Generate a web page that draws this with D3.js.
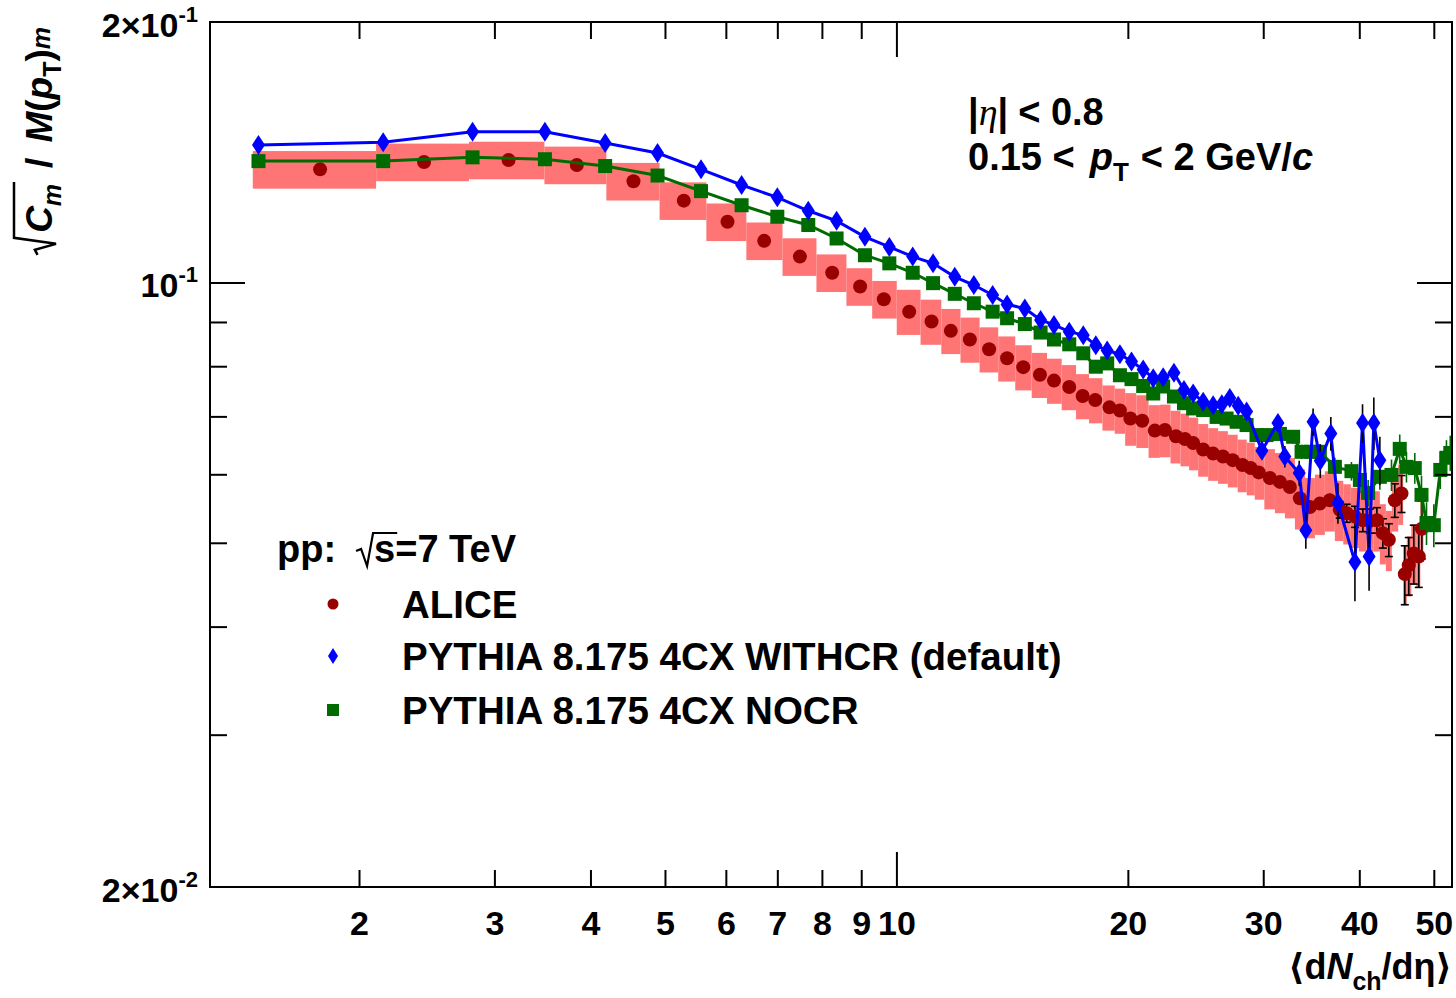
<!DOCTYPE html>
<html><head><meta charset="utf-8">
<script src="https://cdn.jsdelivr.net/npm/d3@7"></script>
<style>html,body{margin:0;padding:0;background:#fff;} svg{display:block}</style>
</head><body>
<svg id="chart" width="1456" height="998"></svg>
<script>
// ---------------- data ----------------
const aliceX = [1.78,2.43,3.13,3.84,4.55,5.29,6.03,6.73,7.49,8.25,8.97,9.63,10.39,11.11,11.77,12.46,13.2,13.93,14.62,15.37,
  16.03,16.78,17.47,18.14,18.93,19.53,20.15,20.88,21.68,22.35,23.10,23.73,24.32,25.06,25.82,26.59,27.38,28.2,28.9,29.6,
  30.6,31.54,32.49,33.48,34.5,35.54,36.62,37.73,38.52,39.48,40.43,41.28,42.16,42.92,43.7,44.49,45.39,45.84,46.39,47.09,47.8,48.24];
const aliceY = [0.1351,0.1378,0.1385,0.1367,0.1309,0.1243,0.1175,0.1117,0.1071,0.1026,0.0989,0.0956,0.0925,0.0901,0.0879,0.0859,0.0837,0.0817,0.0798,0.0782,
  0.0770,0.0757,0.0739,0.0731,0.0717,0.0711,0.0696,0.0692,0.0674,0.0675,0.0664,0.0659,0.0652,0.0641,0.0634,0.0629,0.0623,0.0615,0.0610,0.0603,
  0.0594,0.0588,0.0580,0.0563,0.0550,0.0555,0.0560,0.0546,0.0541,0.0536,0.0531,0.0530,0.0531,0.0513,0.0504,0.0560,0.0570,0.0460,0.0471,0.0486,0.0482,0.0519];
const aliceStat = [0.0003,0.0003,0.0003,0.0003,0.0003,0.0003,0.0003,0.0003,0.0003,0.0003,0.0003,0.0003,0.0003,0.0003,0.0003,0.0003,0.0003,0.0003,0.0003,0.0003,
  0.0003,0.0003,0.0003,0.0003,0.0003,0.0003,0.0003,0.0003,0.0003,0.0003,0.0003,0.0003,0.0004,0.0004,0.0004,0.0004,0.0004,0.0004,0.0004,0.0004,
  0.0005,0.0005,0.0006,0.0007,0.0008,0.0009,0.0010,0.0012,0.0013,0.0015,0.0016,0.0017,0.0018,0.0020,0.0022,0.0025,0.0028,0.0036,0.0036,0.0038,0.0038,0.0040];
const aliceSystRel = [0.05,0.05,0.05,0.05,0.05,0.05,0.05,0.05,0.05,0.05,0.05,0.05,0.06,0.06,0.06,0.06,0.06,0.06,0.06,0.06,
  0.06,0.06,0.06,0.06,0.06,0.06,0.07,0.07,0.07,0.07,0.07,0.07,0.07,0.07,0.07,0.07,0.07,0.07,0.07,0.07,
  0.08,0.08,0.08,0.08,0.08,0.08,0.08,0.08,0.08,0.08,0.08,0.08,0.08,0.08,0.08,0.08,0.08,0.08,0.08,0.08,0.08,0.08];

const withcrX = [1.48,2.15,2.81,3.49,4.18,4.89,5.57,6.29,7.0,7.68,8.36,9.1,9.79,10.5,11.16,11.91,12.61,13.34,13.93,14.69,
  15.4,16.03,16.78,17.5,18.17,18.8,19.53,20.22,20.94,21.58,22.23,22.96,23.66,24.32,25.06,25.82,26.5,27.14,27.83,28.54,
  29.88,31.35,32.0,33.41,34.08,34.83,35.59,36.73,37.52,39.48,40.39,41.19,41.78,42.54];
const withcrY = [0.1442,0.1452,0.1493,0.1493,0.1449,0.1411,0.1351,0.1296,0.1254,0.1210,0.1178,0.1129,0.1099,0.1071,0.1052,0.1015,0.0993,0.0967,0.0943,0.0933,
  0.0905,0.0893,0.0877,0.0869,0.0846,0.0834,0.0826,0.0810,0.0793,0.0775,0.0777,0.0786,0.0751,0.0744,0.0728,0.0721,0.0723,0.0735,0.0720,0.0709,
  0.0639,0.0688,0.0629,0.0602,0.0517,0.0690,0.0622,0.0669,0.0556,0.0475,0.0688,0.0482,0.0688,0.0623];
const withcrErr = [0.0003,0.0003,0.0003,0.0003,0.0003,0.0003,0.0003,0.0003,0.0003,0.0003,0.0003,0.0003,0.0003,0.0003,0.0003,0.0003,0.0003,0.0003,0.0003,0.0003,
  0.0004,0.0004,0.0004,0.0004,0.0005,0.0005,0.0005,0.0005,0.0006,0.0006,0.0006,0.0007,0.0007,0.0008,0.0008,0.0009,0.0009,0.0010,0.0010,0.0011,
  0.0015,0.0015,0.0018,0.0020,0.0025,0.0025,0.0028,0.0030,0.0030,0.0047,0.0035,0.0042,0.0048,0.0040];

const nocrX = [1.48,2.15,2.81,3.49,4.18,4.89,5.57,6.29,7.0,7.68,8.36,9.1,9.79,10.5,11.16,11.91,12.61,13.34,13.93,14.69,
  15.4,16.03,16.78,17.5,18.17,18.8,19.53,20.22,20.94,21.58,22.23,22.96,23.66,24.32,25.06,26.09,26.88,27.7,28.54,29.4,
  30.3,31.54,32.81,33.65,34.64,35.54,37.18,39.07,40.07,41.07,42.54,44.05,45.15,46.07,47.23,48.19,48.92,50.0,50.98,51.93,52.53];
const nocrY = [0.1381,0.1381,0.1395,0.1388,0.1363,0.1329,0.1275,0.1228,0.1191,0.1165,0.1124,0.1075,0.1052,0.1026,0.0998,0.0970,0.0946,0.0925,0.0909,0.0895,
  0.0875,0.0859,0.0848,0.0828,0.0799,0.0806,0.0781,0.0773,0.0759,0.0744,0.0758,0.0738,0.0725,0.0715,0.0712,0.0699,0.0696,0.0690,0.0684,0.0666,
  0.0666,0.0668,0.0663,0.0637,0.0637,0.0637,0.0612,0.0605,0.0591,0.0571,0.0596,0.0599,0.0642,0.0612,0.0610,0.0568,0.0527,0.0524,0.0607,0.0627,0.0635];
const nocrErr = [0.0003,0.0003,0.0003,0.0003,0.0003,0.0003,0.0003,0.0003,0.0003,0.0003,0.0003,0.0003,0.0003,0.0003,0.0003,0.0003,0.0003,0.0003,0.0003,0.0003,
  0.0004,0.0004,0.0004,0.0004,0.0005,0.0005,0.0005,0.0005,0.0006,0.0006,0.0006,0.0007,0.0007,0.0008,0.0008,0.0009,0.0009,0.0010,0.0010,0.0010,
  0.0011,0.0011,0.0012,0.0012,0.0013,0.0013,0.0015,0.0015,0.0020,0.0020,0.0020,0.0025,0.0025,0.0025,0.0025,0.0030,0.0030,0.0030,0.0030,0.0030,0.0030];

const xMinorTicks = [2,3,4,5,6,7,8,9,20,30,40,50];
const xMajorTicks = [10];
const xTickLabels = ["2","3","4","5","6","7","8","9","10","20","30","40","50"];
const xLabelValues = [2,3,4,5,6,7,8,9,10,20,30,40,50];
const yMinorTicks = [0.03,0.04,0.05,0.06,0.07,0.08,0.09];
const yMajorTicks = [0.1];
const yLabelValues = [0.2, 0.1, 0.02];
const yLabelMant = ["2\u00d710", "10", "2\u00d710"];
const yLabelExp = ["-1", "-1", "-2"];
const legendLabels = ["ALICE", "PYTHIA 8.175 4CX WITHCR (default)", "PYTHIA 8.175 4CX NOCR"];

// ---------------- layout ----------------
const W = 1456, H = 998;
const L = 210, R = 1452, T = 22, B = 887;
const svg = d3.select('#chart');
const x = d3.scaleLog().domain([1.28, 52.8]).range([L, R]);
const y = d3.scaleLog().domain([0.02, 0.2]).range([B, T]);

const SANS = "'Liberation Sans', Arial, Helvetica, 'DejaVu Sans', sans-serif";
const SERIF = "'Liberation Serif', 'DejaVu Serif', serif";
const cRed = '#990000', cBand = '#ff7575', cBlue = '#0000ff', cGreen = '#006b00';

svg.append('rect').attr('width', W).attr('height', H).attr('fill', '#fff');

svg.append('defs').append('clipPath').attr('id', 'plotclip')
  .append('rect').attr('x', L).attr('y', T).attr('width', R - L).attr('height', B - T);

// rich text helper
function rich(parent, px, py, pieces, anchor, rot) {
  const outer = parent.append('g').attr('transform', `translate(${px},${py}) rotate(${rot || 0})`);
  const g = outer.append('g');
  let cx = 0; const pos = [];
  for (const p of pieces) {
    if (p.gap !== undefined) { pos.push({x0: cx, x1: cx + p.gap}); cx += p.gap; continue; }
    const t = g.append('text').attr('x', cx).attr('y', p.dy || 0)
      .style('font-family', p.serif ? SERIF : SANS)
      .style('font-size', p.size + 'px')
      .style('font-weight', p.normal ? 'normal' : 'bold')
      .style('font-style', p.it ? 'italic' : 'normal')
      .attr('fill', '#000').text(p.t);
    const w = t.node().getComputedTextLength();
    pos.push({x0: cx, x1: cx + w}); cx += w;
  }
  const off = anchor === 'end' ? -cx : anchor === 'middle' ? -cx / 2 : 0;
  g.attr('transform', `translate(${off},0)`);
  return {g, pos, width: cx};
}
function radical(g, x0, x1, top, sw) {
  g.append('path')
    .attr('d', `M${x0},${top * 0.38} L${x0 + 5},${top * 0.45} L${x0 + 11},4 L${x0 + 17},${top} L${x1 + 2},${top}`)
    .attr('fill', 'none').attr('stroke', '#000').attr('stroke-width', sw || 2.5).attr('stroke-linejoin', 'miter');
}

// ---------------- data layers ----------------
const plot = svg.append('g').attr('clip-path', 'url(#plotclip)');

// ALICE systematic boxes
const nA = aliceX.length;
const boxes = aliceX.map((xv, i) => {
  const left = i === 0 ? xv - (aliceX[1] - xv) / 2 : (aliceX[i - 1] + xv) / 2;
  const right = i === nA - 1 ? xv + (xv - aliceX[i - 1]) / 2 : (xv + aliceX[i + 1]) / 2;
  return {left, right, lo: aliceY[i] * (1 - aliceSystRel[i]), hi: aliceY[i] * (1 + aliceSystRel[i])};
});
plot.append('g').selectAll('rect').data(boxes).join('rect')
  .attr('x', d => x(d.left)).attr('width', d => x(d.right) - x(d.left))
  .attr('y', d => y(d.hi)).attr('height', d => y(d.lo) - y(d.hi))
  .attr('fill', cBand);

// ALICE stat error bars
const aIdx = d3.range(nA);
const aErr = plot.append('g').attr('stroke', '#000').attr('stroke-width', 1.6);
aErr.selectAll('line.v').data(aIdx).join('line').attr('class', 'v')
  .attr('x1', i => x(aliceX[i])).attr('x2', i => x(aliceX[i]))
  .attr('y1', i => y(aliceY[i] + aliceStat[i])).attr('y2', i => y(aliceY[i] - aliceStat[i]));
aErr.selectAll('line.c1').data(aIdx.filter(i => aliceStat[i] >= 0.0012)).join('line').attr('class', 'c1')
  .attr('x1', i => x(aliceX[i]) - 4).attr('x2', i => x(aliceX[i]) + 4)
  .attr('y1', i => y(aliceY[i] + aliceStat[i])).attr('y2', i => y(aliceY[i] + aliceStat[i]));
aErr.selectAll('line.c2').data(aIdx.filter(i => aliceStat[i] >= 0.0012)).join('line').attr('class', 'c2')
  .attr('x1', i => x(aliceX[i]) - 4).attr('x2', i => x(aliceX[i]) + 4)
  .attr('y1', i => y(aliceY[i] - aliceStat[i])).attr('y2', i => y(aliceY[i] - aliceStat[i]));
plot.append('g').selectAll('circle').data(aIdx).join('circle')
  .attr('cx', i => x(aliceX[i])).attr('cy', i => y(aliceY[i])).attr('r', 7).attr('fill', cRed);

const line = d3.line().x(d => x(d[0])).y(d => y(d[1]));

// NOCR (green)
const gIdx = d3.range(nocrX.length);
plot.append('path').datum(gIdx.map(i => [nocrX[i], nocrY[i]])).attr('d', line)
  .attr('fill', 'none').attr('stroke', cGreen).attr('stroke-width', 3);
plot.append('g').attr('stroke', cGreen).attr('stroke-width', 1.6).selectAll('line').data(gIdx).join('line')
  .attr('x1', i => x(nocrX[i])).attr('x2', i => x(nocrX[i]))
  .attr('y1', i => y(nocrY[i] + nocrErr[i])).attr('y2', i => y(nocrY[i] - nocrErr[i]));
plot.append('g').selectAll('rect').data(gIdx).join('rect')
  .attr('x', i => x(nocrX[i]) - 7).attr('y', i => y(nocrY[i]) - 7).attr('width', 14).attr('height', 14).attr('fill', cGreen);

// WITHCR (blue)
const bIdx = d3.range(withcrX.length);
plot.append('path').datum(bIdx.map(i => [withcrX[i], withcrY[i]])).attr('d', line)
  .attr('fill', 'none').attr('stroke', cBlue).attr('stroke-width', 3);
plot.append('g').attr('stroke', '#000').attr('stroke-width', 1.6).selectAll('line').data(bIdx).join('line')
  .attr('x1', i => x(withcrX[i])).attr('x2', i => x(withcrX[i]))
  .attr('y1', i => y(withcrY[i] + withcrErr[i])).attr('y2', i => y(withcrY[i] - withcrErr[i]));
const diamond = 'M0,-10 L6.5,0 L0,10 L-6.5,0 Z';
plot.append('g').selectAll('path').data(bIdx).join('path')
  .attr('d', diamond).attr('transform', i => `translate(${x(withcrX[i])},${y(withcrY[i])})`).attr('fill', cBlue);

// ---------------- axes ----------------
const axG = svg.append('g');
function styleAxis(sel) {
  sel.select('.domain').remove();
  sel.selectAll('line').attr('stroke', '#000').attr('stroke-width', 2);
}
axG.append('g').attr('transform', `translate(0,${B})`)
  .call(d3.axisBottom(x).tickValues(xMinorTicks).tickSize(-17).tickFormat('')).call(styleAxis);
axG.append('g').attr('transform', `translate(0,${B})`)
  .call(d3.axisBottom(x).tickValues(xMajorTicks).tickSize(-35).tickFormat('')).call(styleAxis);
axG.append('g').attr('transform', `translate(0,${T})`)
  .call(d3.axisTop(x).tickValues(xMinorTicks).tickSize(-17).tickFormat('')).call(styleAxis);
axG.append('g').attr('transform', `translate(0,${T})`)
  .call(d3.axisTop(x).tickValues(xMajorTicks).tickSize(-35).tickFormat('')).call(styleAxis);
axG.append('g').attr('transform', `translate(${L},0)`)
  .call(d3.axisLeft(y).tickValues(yMinorTicks).tickSize(-17).tickFormat('')).call(styleAxis);
axG.append('g').attr('transform', `translate(${L},0)`)
  .call(d3.axisLeft(y).tickValues(yMajorTicks).tickSize(-35).tickFormat('')).call(styleAxis);
axG.append('g').attr('transform', `translate(${R},0)`)
  .call(d3.axisRight(y).tickValues(yMinorTicks).tickSize(-17).tickFormat('')).call(styleAxis);
axG.append('g').attr('transform', `translate(${R},0)`)
  .call(d3.axisRight(y).tickValues(yMajorTicks).tickSize(-35).tickFormat('')).call(styleAxis);

// x labels
const xl = axG.append('g').attr('transform', `translate(0,${B})`)
  .call(d3.axisBottom(x).tickValues(xLabelValues).tickSize(0).tickPadding(24)
    .tickFormat((d, i) => xTickLabels[i]));
xl.select('.domain').remove();
xl.selectAll('text').style('font-family', SANS).style('font-size', '34px').style('font-weight', 'bold').attr('fill', '#000');

// y labels
yLabelValues.forEach((v, i) => {
  rich(svg, 198, y(v) + 15, [
    {t: yLabelMant[i], size: 34},
    {t: yLabelExp[i], size: 22, dy: -15}
  ], 'end');
});

// frame
svg.append('rect').attr('x', L).attr('y', T).attr('width', R - L).attr('height', B - T)
  .attr('fill', 'none').attr('stroke', '#000').attr('stroke-width', 2);

// x title
rich(svg, 1452, 979, [
  {t: '\u27e8d', size: 36},
  {t: 'N', size: 36, it: true},
  {t: 'ch', size: 25, dy: 11},
  {t: '/d\u03b7\u27e9', size: 36}
], 'end');

// y title
const yt = rich(svg, 52, 27, [
  {gap: 22},
  {t: 'C', size: 37, it: true},
  {t: 'm', size: 25, it: true, dy: 9},
  {gap: 16},
  {t: '/', size: 37},
  {gap: 15},
  {t: 'M', size: 37, it: true},
  {t: '(', size: 37},
  {t: 'p', size: 37, it: true},
  {t: 'T', size: 25, dy: 9},
  {t: ')', size: 37},
  {t: 'm', size: 25, it: true, dy: -2}
], 'end', -90);
radical(yt.g, yt.pos[0].x0, yt.pos[2].x1, -38, 2.5);

// top-right text
rich(svg, 968, 125, [
  {t: '|', size: 38},
  {t: '\u03b7', size: 38, it: true, serif: true, normal: true},
  {t: '|', size: 38},
  {gap: 10},
  {t: '< 0.8', size: 38}
], 'start');
rich(svg, 968, 170, [
  {t: '0.15 <', size: 38},
  {gap: 15},
  {t: 'p', size: 38, it: true},
  {t: 'T', size: 26, dy: 11},
  {gap: 12},
  {t: '< 2 GeV/', size: 38},
  {t: 'c', size: 38, it: true}
], 'start');

// legend
const pp = rich(svg, 277, 562, [
  {t: 'pp:', size: 38},
  {gap: 20},
  {gap: 18},
  {t: 's', size: 38},
  {t: '=7 TeV', size: 38}
], 'start');
radical(pp.g, pp.pos[2].x0, pp.pos[3].x1, -29, 2.2);

const legY = [604, 656, 710];
const lg = svg.append('g');
lg.append('circle').attr('cx', 333).attr('cy', legY[0]).attr('r', 5.5).attr('fill', cRed);
lg.append('path').attr('d', 'M0,-8 L5,0 L0,8 L-5,0 Z').attr('transform', `translate(333,${legY[1]})`).attr('fill', cBlue);
lg.append('rect').attr('x', 333 - 6).attr('y', legY[2] - 6).attr('width', 12).attr('height', 12).attr('fill', cGreen);
legendLabels.forEach((t, i) => {
  lg.append('text').attr('x', 402).attr('y', legY[i] + 14).text(t)
    .style('font-family', SANS).style('font-size', '38.5px').style('font-weight', 'bold').attr('fill', '#000');
});
</script>
</body></html>
